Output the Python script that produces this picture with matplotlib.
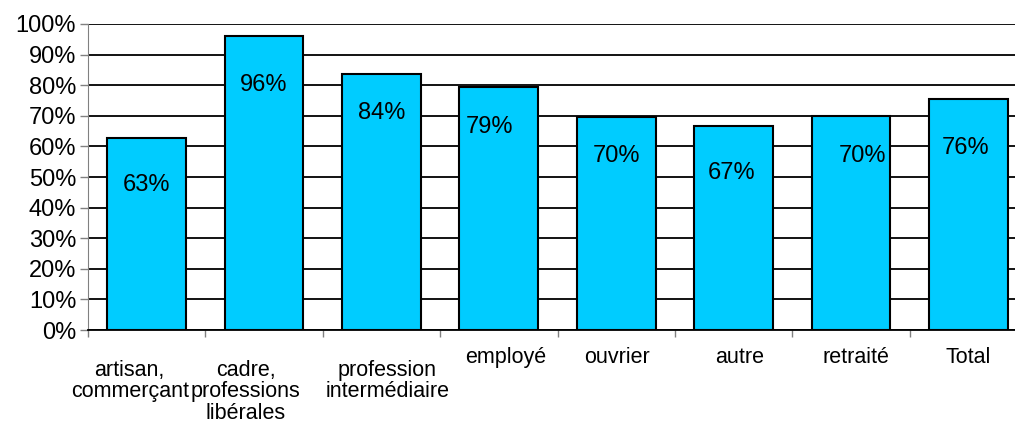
import matplotlib
matplotlib.use("Agg")
import matplotlib.pyplot as plt
from matplotlib.ticker import FixedLocator
import matplotlib.transforms as mtransforms

plt.rcParams['font.family'] = ['Liberation Sans', 'DejaVu Sans']

categories = ["artisan,\ncommerçant", "cadre,\nprofessions\nlibérales", "profession\nintermédiaire",
              "employé", "ouvrier", "autre", "retraité", "Total"]
values = [62.6, 96.2, 83.7, 79.4, 69.5, 66.8, 69.9, 75.6]
value_labels = ["63%", "96%", "84%", "79%", "70%", "67%", "70%", "76%"]
yticks = [0, 10, 20, 30, 40, 50, 60, 70, 80, 90, 100]
ytick_labels = ["0%", "10%", "20%", "30%", "40%", "50%", "60%", "70%", "80%", "90%", "100%"]

# layout (label placement, as in the reference)
label_y = [47.4, 80.0, 71.0, 66.3, 56.9, 51.3, 56.9, 59.5]
label_dx = [0, 0, 0, -0.08, 0, -0.02, 0.1, -0.02]
cat_dx = [-0.145, -0.155, 0.05, 0.06, 0.01, 0.05, 0.04, 0.0]

W, H = 1015, 423
fig = plt.figure(figsize=(W / 100, H / 100), dpi=100)
ax = fig.add_axes([88 / W, 1 - 330 / H, (1027 - 88) / W, (330 - 24) / H])

x = list(range(len(categories)))
ax.bar(x, values, width=0.67, color="#00CCFF", edgecolor="black", linewidth=1.5, zorder=3)

ax.set_xlim(-0.5, len(categories) - 0.5)
ax.set_ylim(0, 100)
ax.set_yticks(yticks)
ax.set_yticklabels(ytick_labels, fontsize=17)
ax.yaxis.grid(True, color="black", linewidth=1.3, zorder=0)
ax.set_axisbelow(True)
ax.tick_params(axis="y", direction="out", length=6, width=1, color="#808080", pad=2.5)

ax.xaxis.set_major_locator(FixedLocator([i - 0.5 for i in range(len(categories) + 1)]))
ax.set_xticklabels([])
ax.tick_params(axis="x", direction="out", length=5, width=1, color="#808080")

for s in ["top", "right"]:
    ax.spines[s].set_visible(False)
ax.spines["left"].set_color("#808080")
ax.spines["bottom"].set_color("black")
ax.spines["bottom"].set_linewidth(1.3)

trans = mtransforms.blended_transform_factory(ax.transData, fig.transFigure)
for i, (cat, dx) in enumerate(zip(categories, cat_dx)):
    nlines = cat.count("\n") + 1
    if nlines == 1:
        ax.text(i + dx, 1 - 357 / H, cat, transform=trans, ha="center", va="center", fontsize=15.5)
    else:
        ax.text(i + dx, 1 - 360 / H, cat, transform=trans, ha="center", va="top",
                fontsize=15.5, linespacing=1.03, multialignment="center")

for i, (lab, ly, dx) in enumerate(zip(value_labels, label_y, label_dx)):
    ax.text(i + dx, ly, lab, ha="center", va="center", fontsize=17, zorder=4)

fig.savefig("out.png", dpi=100)
